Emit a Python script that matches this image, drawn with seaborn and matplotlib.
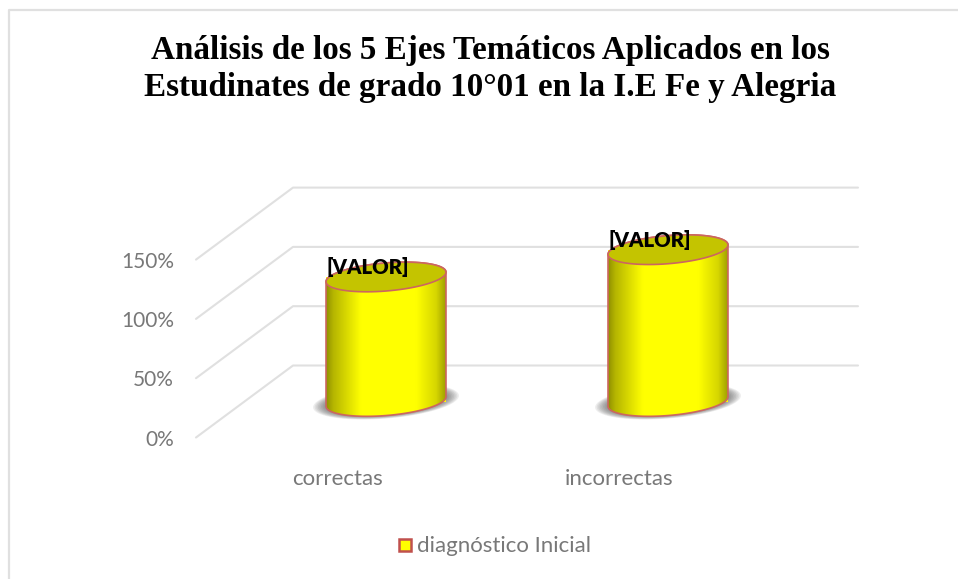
import numpy as np
import pandas as pd
import matplotlib
matplotlib.use('Agg')
import matplotlib.pyplot as plt
import seaborn as sns
from matplotlib.colors import LinearSegmentedColormap
from matplotlib.patches import PathPatch, Rectangle
from matplotlib.path import Path
from matplotlib.lines import Line2D

TITLE = 'Análisis de los 5 Ejes Temáticos Aplicados en los\nEstudinates de grado 10°01 en la I.E Fe y Alegria'
CATEGORIES = ['correctas', 'incorrectas']
VALUES = [105, 128]
BAR_LABELS = ['[VALOR]', '[VALOR]']
SERIES = 'diagnóstico Inicial'
TICKS = [0, 50, 100, 150]
TICK_LABELS = ['0%', '50%', '100%', '150%']

W, H = 958, 579
PX_PER_CAT = 282
PX_PER_PCT = 59.3 / 50
DEPTH_X, DEPTH_Y = 48.5, 36

sns.set_theme(style='white')
plt.rcParams['font.family'] = ['Lato', 'DejaVu Sans']

fig = plt.figure(figsize=(W / 100, H / 100), dpi=100, facecolor='white')
# ejes en pixeles de la imagen: 196..858 en x, 186..438 en y
ax = fig.add_axes([196 / W, 1 - 438 / H, (858 - 196) / W, (438 - 186) / H])
ax.patch.set_alpha(0)

df = pd.DataFrame({'cat': CATEGORIES, 'val': VALUES})
sns.barplot(data=df, x='cat', y='val', color='#ffff00', width=120 / PX_PER_CAT,
            saturation=1, ax=ax, zorder=2, linewidth=0)

xlim = ((196 - 386) / PX_PER_CAT, (858 - 386) / PX_PER_CAT)
ylim = (-36.5 / PX_PER_PCT, 215.5 / PX_PER_PCT)
depth_x = DEPTH_X / PX_PER_CAT
depth_y = DEPTH_Y / PX_PER_PCT

# rejilla: pared del fondo y lineas de profundidad
grid = '#e0e0e0'
for t in TICKS:
    ax.plot([xlim[0], xlim[0] + 2 * depth_x, xlim[1]],
            [t - depth_y, t + depth_y, t + depth_y],
            color=grid, lw=1.5, zorder=1, clip_on=False)

ax.set_xticks([i - depth_x for i in range(len(CATEGORIES))], CATEGORIES)
ax.set_yticks([t - depth_y for t in TICKS], TICK_LABELS)
ax.tick_params(axis='x', length=0, pad=22, labelsize=16, labelcolor='#787878')
ax.tick_params(axis='y', length=0, pad=16, labelsize=15, labelcolor='#787878')
ax.set_xlabel('')
ax.set_ylabel('')
sns.despine(ax=ax, left=True, bottom=True)


def ellipse_pts(cx, cy, a, b, t0=0, t1=2 * np.pi, tilt=4.8):
    # elipse inclinada, a y b en pixeles, devuelta en unidades de datos
    t = np.linspace(t0, t1, 80)
    th = np.radians(tilt)
    px = a * np.cos(t) * np.cos(th) - b * np.sin(t) * np.sin(th)
    py = a * np.cos(t) * np.sin(th) + b * np.sin(t) * np.cos(th)
    return np.c_[cx + px / PX_PER_CAT, cy + py / PX_PER_PCT]


cmap = LinearSegmentedColormap.from_list('cyl', [
    (0, '#808000'), (0.08, '#b5b500'), (0.30, '#ffff00'),
    (0.74, '#ffff00'), (0.90, '#d6d600'), (1, '#8f8f00')])
grad = np.linspace(0, 1, 256).reshape(1, -1)
edge = '#cc6660'

for patch, label in zip(ax.patches, BAR_LABELS):
    x0 = patch.get_x()
    w = patch.get_width()
    v = patch.get_height()
    cx = x0 + w / 2
    a = w * PX_PER_CAT / 2 + 0.2
    b = 14.0
    # sombra difusa bajo la base
    for k in range(12):
        shadow = ellipse_pts(cx, 0, a + 13 - k * 1.6, b + 3 - k * 0.4)
        ax.fill(shadow[:, 0], shadow[:, 1], color='#404040', alpha=0.09, lw=0, zorder=1.5)
    # cuerpo: lado inferior + lado superior
    low = ellipse_pts(cx, 0, a, b, np.pi, 2 * np.pi)
    high = ellipse_pts(cx, v, a, b, 0, np.pi)
    body = np.vstack([low, high, low[:1]])
    codes = [Path.MOVETO] + [Path.LINETO] * (len(body) - 2) + [Path.CLOSEPOLY]
    outline = PathPatch(Path(body, codes), fc='none', ec=edge, lw=1.2, zorder=3.2)
    ax.add_patch(outline)
    im = ax.imshow(grad, cmap=cmap, aspect='auto', zorder=3,
                   extent=[x0 - 0.01, x0 + w + 0.01, -40, v + 40])
    im.set_clip_path(outline)
    top = ellipse_pts(cx, v, a, b)
    ax.fill(top[:, 0], top[:, 1], fc='#c4c400', ec=edge, lw=1.2, zorder=3.4)
    ax.text(x0, v + 9.5 / PX_PER_PCT, label, fontsize=14.7, fontweight='heavy', color='black',
            ha='left', va='center', zorder=4)

ax.set_xlim(xlim)
ax.set_ylim(ylim)

fig.text(490 / W, 1 - 69 / H, TITLE, family=['Liberation Serif'], fontweight='bold', fontsize=23.85,
         color='black', ha='center', va='center', linespacing=1.22)

# borde del grafico
fig.add_artist(Line2D([9 / W, 9 / W, 958 / W], [0, 1 - 9.5 / H, 1 - 9.5 / H], color=grid, lw=1.6))

# leyenda
fig.add_artist(Rectangle((398.5 / W, 1 - 551 / H), 12 / W, 12 / H, transform=fig.transFigure,
                         fc='#ffff00', ec='#c0504d', lw=1.8))
fig.text(417 / W, 1 - 546.5 / H, SERIES, fontsize=16, color='#787878', ha='left', va='center')

fig.savefig('out.png', dpi=100)
